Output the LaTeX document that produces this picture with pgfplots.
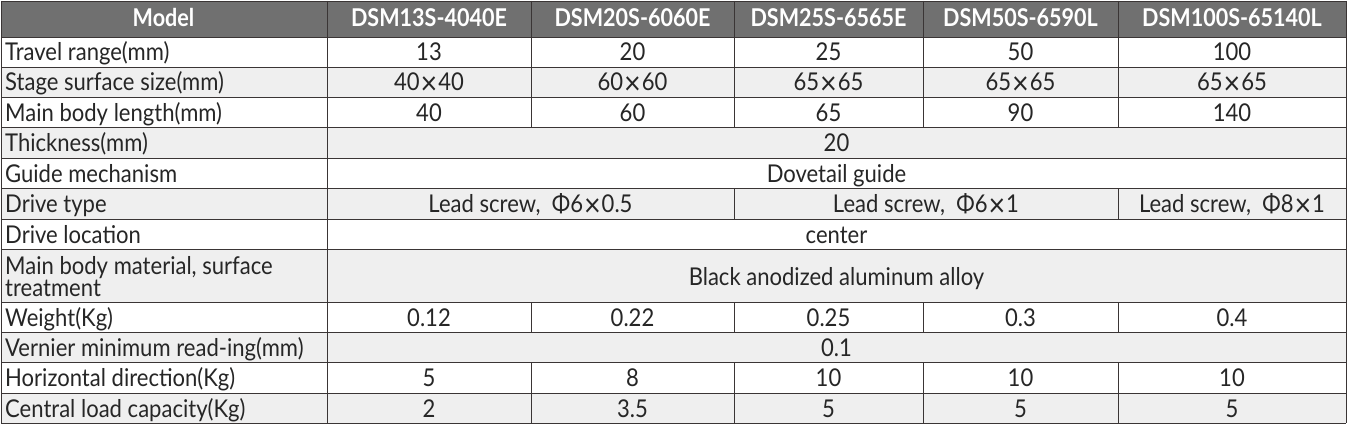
\documentclass[border=0pt]{standalone}
\usepackage{fontspec}
\setmainfont{Lato}[FakeStretch=0.90]
\newfontfamily\headfont{Lato}[FakeStretch=0.88]
\usepackage{pgfplots}
\pgfplotsset{compat=1.18}
\definecolor{headgray}{HTML}{707070}
\definecolor{rowgray}{HTML}{EFEFEF}
\definecolor{rule}{HTML}{3A3535}
\definecolor{ink}{HTML}{262626}
\newcommand{\by}{\hspace{1bp}\raisebox{-3.5bp}{\fontsize{32bp}{32bp}\selectfont ×}\hspace{1bp}}

\pgfplotsset{
  cells/.style={draw=none, mark=none, point meta=explicit symbolic,
    nodes near coords,
    every node near coord/.append style={anchor=base, inner sep=0pt, text=ink,
      font=\fontsize{24.5bp}{27bp}\selectfont}},
  labels/.style={cells,
    every node near coord/.append style={anchor=base west}},
  heads/.style={cells,
    every node near coord/.append style={text=white,
      font=\headfont\fontsize{24.5bp}{27bp}\selectfont\bfseries}},
}

\begin{document}
\begin{tikzpicture}
\begin{axis}[
    width=1349bp, height=426bp, scale only axis,
    xmin=0, xmax=1349, ymin=0, ymax=426, y dir=reverse,
    hide axis, clip=false,
  ]
  % backgrounds
  \fill[white] (axis cs:0,0) rectangle (axis cs:1349,426);
  \fill[headgray] (axis cs:1,1) rectangle (axis cs:1346,37);
  \fill[rowgray] (axis cs:1,67) rectangle (axis cs:1346,97);
  \fill[rowgray] (axis cs:1,127) rectangle (axis cs:1346,158);
  \fill[rowgray] (axis cs:1,188) rectangle (axis cs:1346,219);
  \fill[rowgray] (axis cs:1,249) rectangle (axis cs:1346,302);
  \fill[rowgray] (axis cs:1,332) rectangle (axis cs:1346,362);
  \fill[rowgray] (axis cs:1,393) rectangle (axis cs:1346,423);

  % rules
  \pgfplotsinvokeforeach{1,37,67,97,127,158,188,219,249,302,332,362,393,423}{
    \draw[rule, line width=0.9pt] (axis cs:1,#1) -- (axis cs:1346,#1);
  }
  \draw[rule, line width=0.9pt] (axis cs:1,1) -- (axis cs:1,423);
  \draw[rule, line width=0.9pt] (axis cs:1346,1) -- (axis cs:1346,423);
  \draw[rule, line width=0.9pt] (axis cs:327,1) -- (axis cs:327,423);
  \pgfplotsinvokeforeach{531,734,923,1118}{
    \draw[rule, line width=0.9pt] (axis cs:#1,1) -- (axis cs:#1,127);
    \draw[rule, line width=0.9pt] (axis cs:#1,302) -- (axis cs:#1,332);
    \draw[rule, line width=0.9pt] (axis cs:#1,362) -- (axis cs:#1,423);
  }
  \draw[rule, line width=0.9pt] (axis cs:734,188) -- (axis cs:734,219);
  \draw[rule, line width=0.9pt] (axis cs:1118,188) -- (axis cs:1118,219);

  % header
  \addplot[heads] coordinates {
    (163.5,27) [Model]
    (429,27) [DSM13S-4040E]
    (632.5,27) [DSM20S-6060E]
    (828.5,27) [DSM25S-6565E]
    (1020.5,27) [DSM50S-6590L]
    (1232,27) [DSM100S-65140L]
  };

  % row labels
  \addplot[labels] coordinates {
    (5,61) [{Travel range(mm)}]
    (5,91) [{Stage surface size(mm)}]
    (5,121) [{Main body length(mm)}]
    (5,151.5) [{Thickness(mm)}]
    (5,182) [{Guide mechanism}]
    (5,212.5) [{Drive type}]
    (5,243) [{Drive location}]
    (5,274) [{Main body material, surface}]
    (5,296) [{treatment}]
    (5,326) [{Weight(Kg)}]
    (5,356) [{Vernier minimum read-ing(mm)}]
    (5,386.5) [{Horizontal direction(Kg)}]
    (5,417) [{Central load capacity(Kg)}]
  };

  % travel range
  \addplot[cells] coordinates {
    (429,61) [13] (632.5,61) [20] (828.5,61) [25] (1020.5,61) [50] (1232,61) [100]
  };
  % stage surface size
  \addplot[cells] coordinates {
    (429,91) [{40\by40}] (632.5,91) [{60\by60}] (828.5,91) [{65\by65}]
    (1020.5,91) [{65\by65}] (1232,91) [{65\by65}]
  };
  % main body length
  \addplot[cells] coordinates {
    (429,121) [40] (632.5,121) [60] (828.5,121) [65] (1020.5,121) [90] (1232,121) [140]
  };
  % spanning cells
  \addplot[cells] coordinates {
    (836.5,151.5) [20]
    (836.5,182) [{Dovetail guide}]
    (530.5,212.5) [{Lead screw,\ \ Φ6\by0.5}]
    (926,212.5) [{Lead screw,\ \ Φ6\by1}]
    (1232,212.5) [{Lead screw,\ \ Φ8\by1}]
    (836.5,243) [center]
    (836.5,285) [{Black anodized aluminum alloy}]
    (836.5,356) [0.1]
  };
  % weight
  \addplot[cells] coordinates {
    (429,326) [0.12] (632.5,326) [0.22] (828.5,326) [0.25] (1020.5,326) [0.3] (1232,326) [0.4]
  };
  % horizontal direction
  \addplot[cells] coordinates {
    (429,386.5) [5] (632.5,386.5) [8] (828.5,386.5) [10] (1020.5,386.5) [10] (1232,386.5) [10]
  };
  % central load capacity
  \addplot[cells] coordinates {
    (429,417) [2] (632.5,417) [3.5] (828.5,417) [5] (1020.5,417) [5] (1232,417) [5]
  };
\end{axis}
\end{tikzpicture}
\end{document}
